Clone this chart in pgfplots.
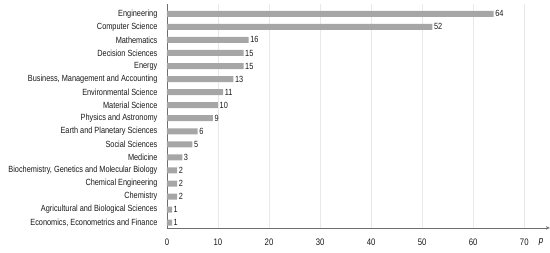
\documentclass[border=0pt]{standalone}
\usepackage{pgfplots}
\pgfplotsset{compat=1.18}
\usetikzlibrary{arrows.meta}
\usepackage{fontspec}
\setmainfont{Liberation Sans}[FakeStretch=0.82]
\definecolor{bargray}{HTML}{A6A6A6}
\definecolor{axgray}{HTML}{6E6E6E}
\begin{document}
\begin{tikzpicture}
\begin{axis}[
  xbar, bar width=6bp,
  scale only axis, width=383bp, height=224bp,
  xmin=0, xmax=75, ymin=-0.75, ymax=16.4, y dir=reverse,
  axis x line=bottom, axis y line=left,
  x axis line style={-{Stealth[length=4bp,width=3.5bp]}, axgray},
  y axis line style={-, axgray},
  major tick length=0pt,
  xtick={0,10,...,70},
  ytick={0,...,16},
  yticklabels={Engineering, Computer Science, Mathematics, Decision Sciences, Energy,
    {Business, Management and Accounting}, Environmental Science, Material Science,
    Physics and Astronomy, Earth and Planetary Sciences, Social Sciences, Medicine,
    {Biochemistry, Genetics and Molecular Biology}, Chemical Engineering, Chemistry,
    Agricultural and Biological Sciences, {Economics, Econometrics and Finance}},
  /pgf/number format/assume math mode=true,
  tick label style={font=\fontsize{9}{10}\selectfont, text=black!90},
  xticklabel style={yshift=-7bp, font=\fontsize{9.5}{10}\selectfont},
  yticklabel style={xshift=-6bp},
  xmajorgrids, grid style={gray!18},
  xlabel={\textit{p}},
  xlabel style={at={(rel axis cs:0.977,0)}, anchor=north, yshift=-7bp, font=\fontsize{9.5}{10}\selectfont},
  nodes near coords,
  nodes near coords style={font=\fontsize{9}{10}\selectfont, anchor=west, inner sep=1.5bp, text=black!90},
]
\addplot[fill=bargray, draw=none] coordinates {
  (64,0) (52,1) (16,2) (15,3) (15,4) (13,5) (11,6) (10,7) (9,8)
  (6,9) (5,10) (3,11) (2,12) (2,13) (2,14) (1,15) (1,16)};
\end{axis}
\path[use as bounding box] (-167bp,-25bp) rectangle (383bp,228bp);
\end{tikzpicture}
\end{document}
